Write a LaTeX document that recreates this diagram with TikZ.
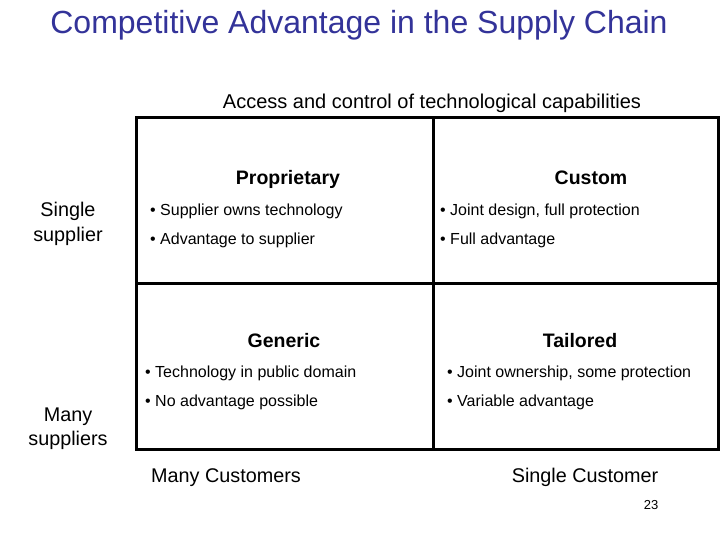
\documentclass[tikz,border=0pt]{standalone}
\usepackage{fontspec}
\setmainfont{Liberation Sans}
\definecolor{titleblue}{RGB}{51,51,153}
\begin{document}
\begin{tikzpicture}[x=1pt,y=-1pt,
  every node/.style={inner sep=0pt, anchor=base},
  grid/.style={line width=3pt},
  hdr/.style={font=\fontsize{19.5}{22}\selectfont\bfseries},
  bul/.style={font=\fontsize{16}{18}\selectfont, anchor=base west},
  lab/.style={font=\fontsize{19.8}{23}\selectfont},
  ]
\useasboundingbox (0,0) rectangle (720,540);
\node[text=titleblue, font=\fontsize{32}{36}\selectfont] (title) at (359,34) {Competitive Advantage in the Supply Chain};
\node[font=\fontsize{20}{23}\selectfont] (access) at (432,109) {Access and control of technological capabilities};
\draw[grid] (136,118) rectangle (718,449);
\draw[grid] (433,118) -- (433,449);
\draw[grid] (136,283) -- (718,283);
\node[hdr] (prop) at (288,185) {Proprietary};
\node[hdr] (cust) at (591,185) {Custom};
\node[hdr] (gen) at (284,347) {Generic};
\node[hdr] (tail) at (580,347) {Tailored};
\node[bul] (p1) at (150,215) {• Supplier owns technology};
\node[bul] (p2) at (150,244) {• Advantage to supplier};
\node[bul] (c1) at (440,215) {• Joint design, full protection};
\node[bul] (c2) at (440,244) {• Full advantage};
\node[bul] (g1) at (145,377) {• Technology in public domain};
\node[bul] (g2) at (145,406) {• No advantage possible};
\node[bul] (t1) at (447,377) {• Joint ownership, some protection};
\node[bul] (t2) at (447,406) {• Variable advantage};
\node[lab] (ss1) at (68,217) {Single};
\node[lab] (ss2) at (68,241) {supplier};
\node[lab] (ms1) at (68,421) {Many};
\node[lab] (ms2) at (68,445) {suppliers};
\node[lab] (mc) at (226,482) {Many Customers};
\node[lab] (sc) at (585,482) {Single Customer};
\node[font=\fontsize{13}{15}\selectfont] (num) at (651,509) {23};
\end{tikzpicture}
\end{document}
